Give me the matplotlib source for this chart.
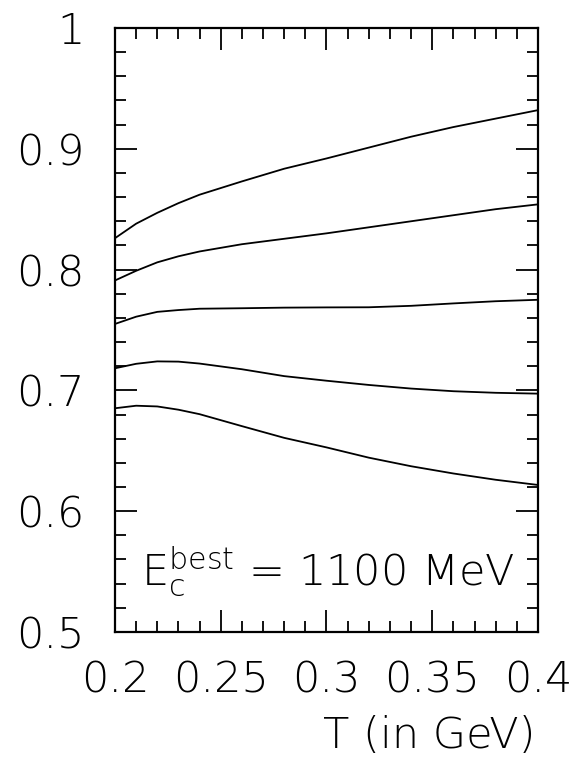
import numpy as np
import matplotlib
matplotlib.use("Agg")
import matplotlib.pyplot as plt
from matplotlib import font_manager
from matplotlib.ticker import MultipleLocator

# 細いフォントがあれば使う
font_name, font_weight = 'DejaVu Sans', 'normal'
for fam in ['DejaVu Sans', 'Open Sans', 'Lato', 'Noto Sans', 'Roboto', 'Inter']:
    found = [f for f in font_manager.fontManager.ttflist
             if f.name == fam and f.style == 'normal' and isinstance(f.weight, int) and 200 <= f.weight <= 300]
    if found:
        font_name, font_weight = fam, found[0].weight
        break
plt.rcParams['font.family'] = [font_name, 'DejaVu Sans']
plt.rcParams['font.weight'] = font_weight
plt.rcParams['axes.labelweight'] = font_weight

# 温度 T (GeV) と各曲線の値
T = [0.20, 0.21, 0.22, 0.23, 0.24, 0.26, 0.28, 0.30, 0.32, 0.34, 0.36, 0.38, 0.40]
curve1 = [0.826, 0.838, 0.847, 0.855, 0.862, 0.873, 0.8835, 0.892, 0.901, 0.910, 0.918, 0.925, 0.932]
curve2 = [0.791, 0.799, 0.806, 0.811, 0.815, 0.821, 0.8255, 0.830, 0.835, 0.840, 0.845, 0.850, 0.854]
curve3 = [0.755, 0.761, 0.765, 0.7665, 0.7676, 0.768, 0.7685, 0.7687, 0.7688, 0.770, 0.772, 0.7738, 0.775]
curve4 = [0.7183, 0.722, 0.724, 0.7238, 0.7222, 0.7175, 0.7118, 0.708, 0.7045, 0.7015, 0.6993, 0.698, 0.6973]
curve5 = [0.6852, 0.6873, 0.6867, 0.684, 0.6803, 0.6704, 0.6607, 0.6528, 0.6443, 0.6372, 0.6312, 0.626, 0.6217]
curves = [curve1, curve2, curve3, curve4, curve5]

label_size = 31

fig = plt.figure(figsize=(5.87, 7.65), dpi=100)
ax = fig.add_axes([0.1959, 0.1739, 0.7206, 0.7895])

for c in curves:
    ax.plot(T, c, color='black', lw=1.3)

ax.set_xlim(0.2, 0.4)
ax.set_ylim(0.5, 1.0)

ax.xaxis.set_major_locator(MultipleLocator(0.05))
ax.xaxis.set_minor_locator(MultipleLocator(0.01))
ax.yaxis.set_major_locator(MultipleLocator(0.1))
ax.yaxis.set_minor_locator(MultipleLocator(0.02))
ax.xaxis.set_major_formatter(plt.FuncFormatter(lambda v, p: f"{v:g}"))
ax.yaxis.set_major_formatter(plt.FuncFormatter(lambda v, p: f"{v:g}"))

for s in ax.spines.values():
    s.set_linewidth(1.6)
ax.tick_params(which='both', direction='in', top=True, right=True, width=1.3)
ax.tick_params(which='major', length=16, labelsize=label_size)
ax.tick_params(which='minor', length=8)
ax.tick_params(axis='x', which='major', pad=20)
ax.tick_params(axis='y', which='major', pad=22)

ax.set_xlabel('T (in GeV)', fontsize=label_size, fontweight=font_weight, ha='right', va='baseline')
ax.xaxis.set_label_coords(0.995, -0.192)

ax.text(0.0615, 0.078, r'$\mathregular{E_c^{best}}$ = 1100 MeV', transform=ax.transAxes,
        fontsize=label_size, ha='left', va='baseline')

fig.savefig('out.png', dpi=100)
